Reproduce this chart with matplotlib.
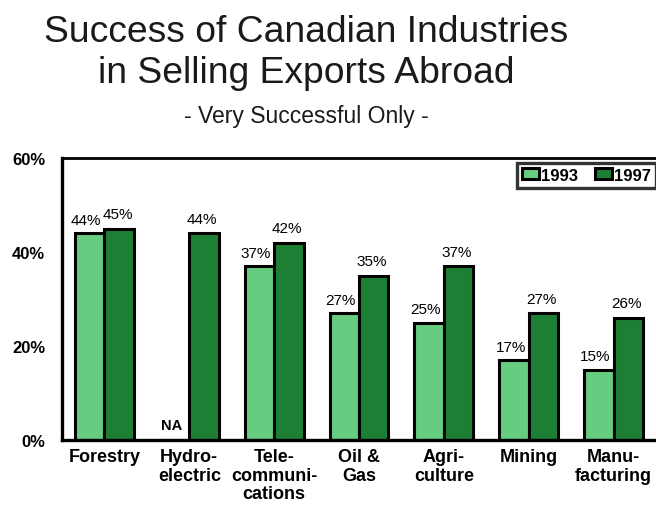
import numpy as np
import matplotlib.pyplot as plt

plt.rcParams['font.family'] = ['Liberation Sans', 'DejaVu Sans']

industries = ['Forestry', 'Hydro-\nelectric', 'Tele-\ncommuni-\ncations', 'Oil &\nGas',
              'Agri-\nculture', 'Mining', 'Manu-\nfacturing']
pct_1993 = [44, np.nan, 37, 27, 25, 17, 15]
pct_1997 = [45, 44, 42, 35, 37, 27, 26]
ytick_vals = [0, 20, 40, 60]

light = '#66CC80'
dark = '#1C7F33'

fig = plt.figure(figsize=(6.56, 5.10), dpi=100)
ax = fig.add_axes([0.0945, 0.1353, 0.9055, 0.5529])

x = np.arange(len(industries))
w = 0.347
ax.bar(x - w / 2, np.nan_to_num(pct_1993), w, color=light, edgecolor='black',
       linewidth=2.2, label='1993')
ax.bar(x + w / 2, pct_1997, w, color=dark, edgecolor='black',
       linewidth=2.2, label='1997')

# value labels above each bar; the missing 1993 hydro figure is shown as NA
for xi, v in zip(x, pct_1993):
    if np.isnan(v):
        ax.text(xi - w / 2 - 0.04, 2.3, 'NA', ha='center', va='baseline', fontsize=10.5,
                fontweight='bold')
    else:
        ax.text(xi - w / 2 - 0.04, v + 2, f'{v:.0f}%', ha='center', va='baseline',
                fontsize=11)
for xi, v in zip(x, pct_1997):
    ax.text(xi + w / 2 - 0.02, v + 2.2, f'{v:.0f}%', ha='center', va='baseline',
            fontsize=11)

ax.set_xlim(-0.5, len(industries) - 0.5)
ax.set_ylim(0, 60)
ax.set_yticks(ytick_vals)
ax.set_yticklabels([f'{v}%' for v in ytick_vals], fontsize=12, fontweight='bold')
ax.set_xticks(x)
ax.set_xticklabels(industries, fontsize=13, fontweight='bold', linespacing=1.12,
                   va='top')
ax.tick_params(length=0)
ax.tick_params(axis='y', pad=12)
ax.tick_params(axis='x', pad=6)
for s in ['left', 'bottom']:
    ax.spines[s].set_linewidth(2.4)
ax.spines['top'].set_linewidth(2.0)
ax.spines['right'].set_visible(False)

leg = ax.legend(loc='upper right', ncol=2, frameon=True, fancybox=False,
                edgecolor='black', prop={'weight': 'bold', 'size': 12},
                handlelength=1.0, handleheight=0.66, handletextpad=0.12,
                columnspacing=1.05, borderpad=0.3, borderaxespad=0,
                bbox_to_anchor=(1.0, 0.984))
leg.get_frame().set_linewidth(2.4)

fig.text(0.4665, 1 - 42 / 510, 'Success of Canadian Industries', ha='center',
         va='baseline', fontsize=26.8, color='#1a1a1a')
fig.text(0.4665, 1 - 83 / 510, 'in Selling Exports Abroad', ha='center',
         va='baseline', fontsize=26.8, color='#1a1a1a')
fig.text(0.4665, 1 - 123 / 510, '- Very Successful Only -', ha='center',
         va='baseline', fontsize=16.5, color='#1a1a1a')

fig.savefig('out.png', dpi=100)
